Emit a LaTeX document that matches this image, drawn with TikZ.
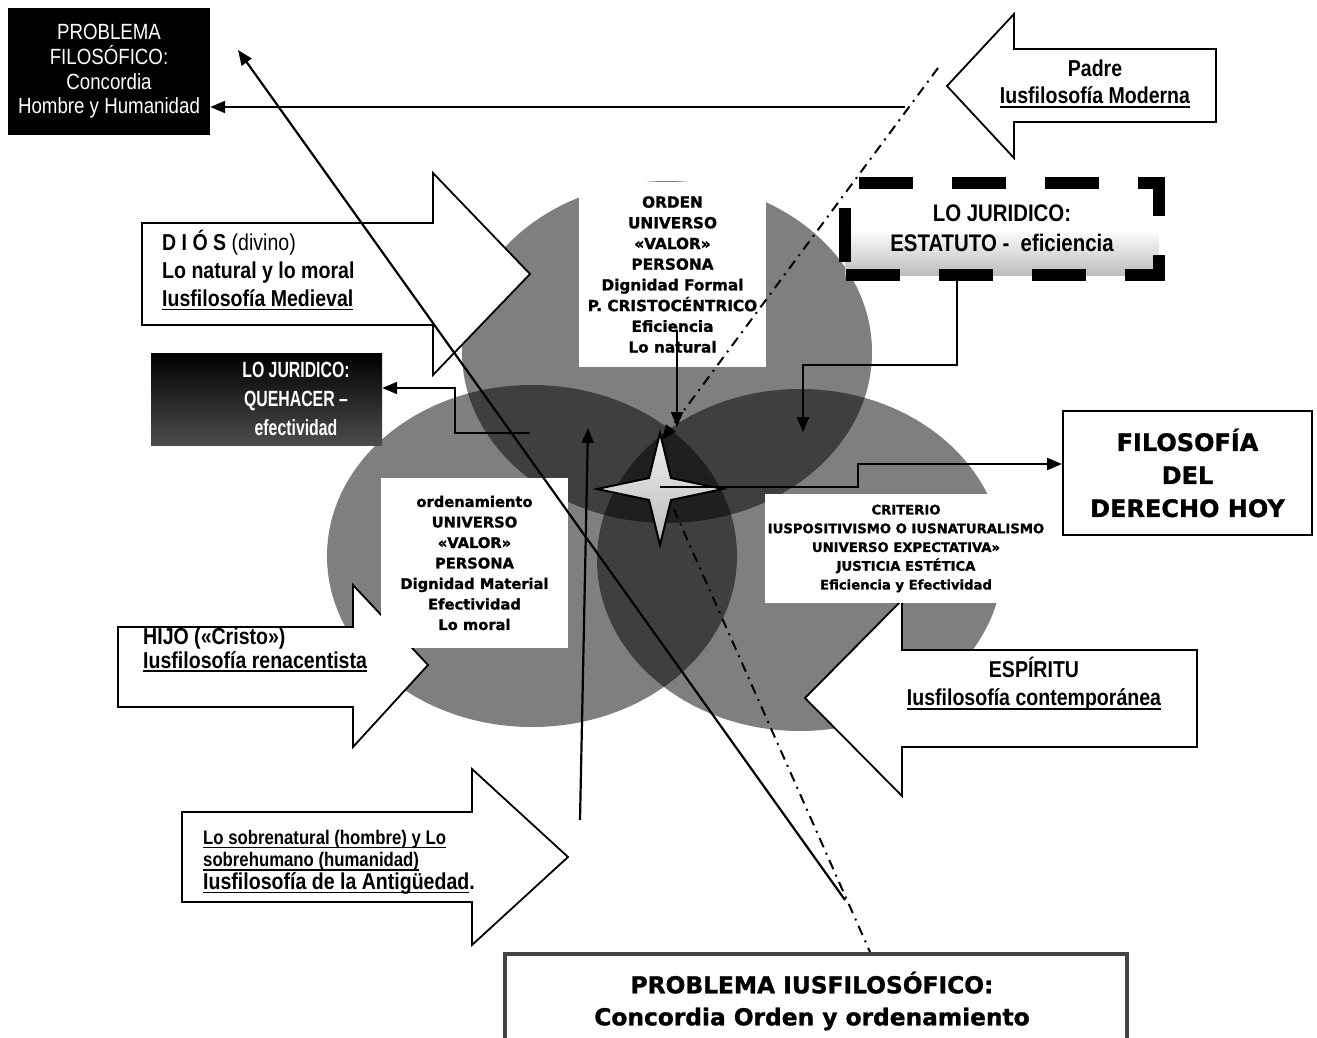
\documentclass[tikz,border=0pt]{standalone}
\usepackage{fontspec}
\setmainfont{Liberation Sans}
\newfontfamily\narrowsans[FakeStretch=0.85]{Liberation Sans}
\newfontfamily\tightsans[FakeStretch=0.72]{Liberation Sans}
\newfontfamily\heavysans[FakeBold=1.2]{DejaVu Sans}
\usetikzlibrary{arrows.meta,calc}

% underline drawn as a solid bar a little below the baseline
\newcommand\undl[1]{\setbox0\hbox{#1}\rlap{\rule[-4pt]{\wd0}{1.6pt}}\box0}

\pgfdeclareverticalshading{estatshade}{100bp}{color(0bp)=(black!52); color(50bp)=(white); color(100bp)=(white)}

\tikzset{
  blob/.style={fill=black, fill opacity=0.5, draw=none},
  blockarrow/.style={draw=black, fill=white, line width=1.8pt, line join=miter},
  innerbox/.style={fill=white, draw=none, inner sep=0pt, align=center},
  conn/.style={line width=2.2pt, -{Triangle[length=15pt,width=12pt]}},
  dashdot line/.style={line width=2pt, dash pattern=on 10pt off 6pt on 2pt off 6pt},
  narrowlabel/.style={inner sep=0pt},
  heavylabel/.style={inner sep=0pt, align=center},
}

\begin{document}
\begin{tikzpicture}[x=1pt,y=-1pt]
\useasboundingbox (0,0) rectangle (1317,1038);
\clip (0,0) rectangle (1317,1038);

% three overlapping translucent discs
\fill[blob] (667,352) ellipse [x radius=205pt, y radius=171pt];
\fill[blob] (532,556) ellipse [x radius=205pt, y radius=171pt];
\fill[blob] (800,560) ellipse [x radius=203pt, y radius=171pt];

% block arrows
\draw[blockarrow] (1216,49) -- (1014,49) -- (1014,14) -- (947,86) -- (1014,158) -- (1014,122) -- (1216,122) -- cycle;
\draw[blockarrow] (142,223) -- (433,223) -- (433,173) -- (530,274) -- (433,375) -- (433,325) -- (142,325) -- cycle;
\draw[blockarrow] (118,627) -- (353,627) -- (353,585) -- (428,665) -- (353,747) -- (353,707) -- (118,707) -- cycle;
\draw[blockarrow] (182,812) -- (472,812) -- (472,769) -- (568,857) -- (472,945) -- (472,902) -- (182,902) -- cycle;
\draw[blockarrow] (1197,650) -- (902,650) -- (902,600) -- (805,698) -- (902,796) -- (902,747) -- (1197,747) -- cycle;

% arrow captions
\node[narrowlabel, align=center, font=\narrowsans\bfseries\fontsize{23}{27}\selectfont] (padretxt) at (1095,84)
  {Padre\\\undl{Iusfilosofía Moderna}};
\node[narrowlabel, anchor=west, align=left, font=\narrowsans\bfseries\fontsize{23}{28}\selectfont] (diostxt) at (162,270)
  {D I Ó S {\mdseries (divino)}\\Lo natural y lo moral\\\undl{Iusfilosofía Medieval}};
\node[narrowlabel, anchor=west, align=left, font=\narrowsans\bfseries\fontsize{23}{23.5}\selectfont] (hijotxt) at (143,650)
  {HIJO («Cristo»)\\\undl{Iusfilosofía renacentista}};
\node[narrowlabel, align=center, font=\narrowsans\bfseries\fontsize{23}{28}\selectfont] (espiritutxt) at (1034,684)
  {ESPÍRITU\\\undl{Iusfilosofía contemporánea}};
\node[narrowlabel, anchor=west, align=left, font=\narrowsans\bfseries\fontsize{19.7}{22.5}\selectfont] (antigtxt) at (203,862)
  {\undl{Lo sobrenatural (hombre) y Lo}\\\undl{sobrehumano (humanidad)}\\{\fontsize{23}{22.5}\selectfont\undl{Iusfilosofía de la Antigüedad}.}};

% white panels inside the discs
\node[innerbox, font=\heavysans\bfseries\fontsize{15.3}{20.7}\selectfont, minimum width=187pt, minimum height=185pt] (ordenbox) at (672.5,274.5)
  {ORDEN\\UNIVERSO\\«VALOR»\\PERSONA\\Dignidad Formal\\P. CRISTOCÉNTRICO\\Eficiencia\\Lo natural};
\node[innerbox, font=\heavysans\bfseries\fontsize{14.7}{20.5}\selectfont, minimum width=187pt, minimum height=170pt] (ordenamientobox) at (474.5,563)
  {ordenamiento\\UNIVERSO\\«VALOR»\\PERSONA\\Dignidad Material\\Efectividad\\Lo moral};
\node[innerbox, font=\heavysans\bfseries\fontsize{13.2}{18.75}\selectfont, minimum width=282pt, minimum height=109pt] (criteriobox) at (906,548.5)
  {CRITERIO\\IUSPOSITIVISMO O IUSNATURALISMO\\UNIVERSO EXPECTATIVA»\\JUSTICIA ESTÉTICA\\Eficiencia y Efectividad};

% top-left black panel
\node[fill=black, text=white, inner sep=0pt, minimum width=202pt, minimum height=127pt, align=center,
      font=\narrowsans\fontsize{22}{24.7}\selectfont] (filosofico) at (109,71.5)
  {PROBLEMA\\FILOSÓFICO:\\Concordia\\Hombre y Humanidad};

% statute panel with heavy dashed frame
\node[inner sep=0pt, minimum width=314pt, minimum height=92pt, shading=estatshade] (estatbox) at (1002,229) {};
\draw[line width=12pt, dash pattern=on 54pt off 39pt, line join=miter]
  (845,262) -- (845,183) -- (1159,183) -- (1159,275) -- (845,275) -- (845,262);
\node[narrowlabel, align=center, font=\narrowsans\bfseries\fontsize{24}{30}\selectfont] (estattxt) at (1002,228)
  {LO JURIDICO:\\ESTATUTO -\ \ eficiencia};

% practice panel
\node[inner sep=0pt, minimum width=231pt, minimum height=92pt, top color=black, bottom color=black!70] (quehacerbox) at (266.5,399) {};
\node[narrowlabel, text=white, align=center, font=\tightsans\bfseries\fontsize{22}{29}\selectfont] (quehacertxt) at (296,399)
  {LO JURIDICO:\\QUEHACER –\\efectividad};

% result panel
\node[draw=black, line width=2pt, fill=white, inner sep=0pt, minimum width=249pt, minimum height=124pt, align=center,
      font=\heavysans\bfseries\fontsize{24}{33}\selectfont] (hoybox) at (1187.5,473)
  {FILOSOFÍA\\DEL\\DERECHO HOY};

% bottom problem panel
\node[draw=black!73, line width=4.5pt, fill=white, minimum width=622pt, minimum height=130pt] (problemabox) at (816,1019) {};
\node[heavylabel, font=\heavysans\bfseries\fontsize{23.3}{32}\selectfont] (problematxt) at (812,1001)
  {PROBLEMA IUSFILOSÓFICO:\\Concordia Orden y ordenamiento};

% dash-dot ray leaving the star
\coordinate (starcentre) at (660,487);
\coordinate (ddStart) at (664,487);
\coordinate (ddEnd) at (870,952);
\draw[dashdot line] (ddStart) -- (ddEnd);

% four-pointed star
\draw[line width=2pt, top color=gray!12, bottom color=gray!55, line join=miter]
  (660,433) -- (671,478) -- (723,489) -- (671,500) -- (660,545) -- (649,500) -- (597,489) -- (649,478) -- cycle;

% connectors
\coordinate (padreLine) at (905,107);
\draw[conn] (padreLine) -- (padreLine -| filosofico.east);

\coordinate (diagFoot) at (845,900);
\coordinate (diagHead) at (238,50);
\draw[conn] (diagFoot) -- (diagHead);

\coordinate (ddTop) at (938,68);
\coordinate (ddTip) at (662,440);
\draw[dashdot line, -{Triangle[length=15pt,width=12pt]}] (ddTop) -- (ddTip);

\coordinate (ordenDrop) at (677,330);
\coordinate (ordenHit) at (677,427);
\draw[conn] (ordenDrop) -- (ordenHit);

\coordinate (riseFoot) at (580,820);
\coordinate (riseHead) at (588,428);
\draw[conn] (riseFoot) -- (riseHead);

\coordinate (estatFoot) at (957,275);
\coordinate (estatHit) at (803,432);
\draw[conn] (estatFoot) -- (957,365) -- (803,365) -- (estatHit);

\coordinate (quehacerFrom) at (530,433);
\draw[conn] (quehacerFrom) -- (455,433) -- (455,388) -- (455,388 -| quehacerbox.east);

\draw[conn] (starcentre) -- (858,487) -- (858,464) -- (858,464 -| hoybox.west);

\end{tikzpicture}
\end{document}
